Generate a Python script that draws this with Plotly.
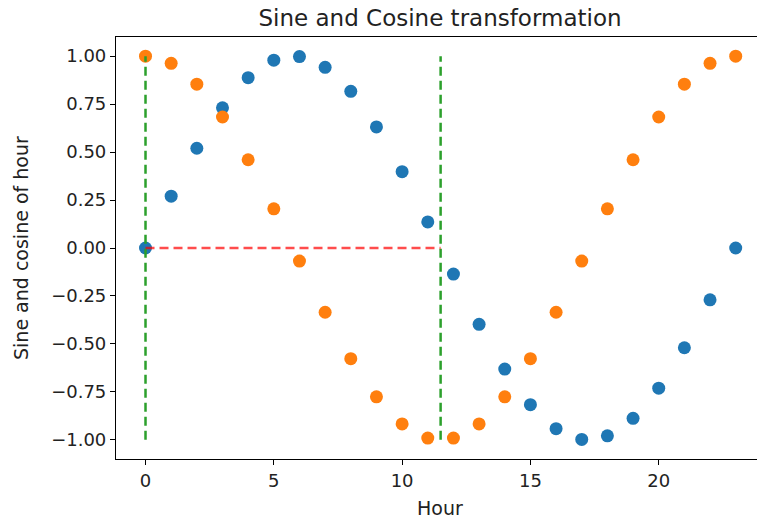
import plotly.graph_objects as go

# Hour of day and its cyclical encoding (period of 23 hours)
hours = list(range(24))
sin_hour = [0.000, 0.270, 0.520, 0.731, 0.888, 0.979, 0.998, 0.942, 0.817, 0.631,
            0.398, 0.136, -0.136, -0.398, -0.631, -0.817, -0.942, -0.998, -0.979,
            -0.888, -0.731, -0.520, -0.270, 0.000]
cos_hour = [1.000, 0.963, 0.854, 0.683, 0.460, 0.204, -0.068, -0.335, -0.577, -0.776,
            -0.917, -0.991, -0.991, -0.917, -0.776, -0.577, -0.335, -0.068, 0.204,
            0.460, 0.683, 0.854, 0.963, 1.000]

# Reference lines: half-period marker and zero baseline
vline_x = [0.0, 11.5]
vline_y = [-1.0, 1.0]
hline_x = [0.0, 11.5]
hline_y = [0.0, 0.0]

x_ticks = [0, 5, 10, 15, 20]
y_ticks = [-1.0, -0.75, -0.5, -0.25, 0.0, 0.25, 0.5, 0.75, 1.0]

FONT = "DejaVu Sans"

fig = go.Figure()
fig.add_trace(go.Scatter(x=hours, y=sin_hour, mode="markers",
                         marker=dict(color="#1f77b4", size=13), name="sin"))
fig.add_trace(go.Scatter(x=hours, y=cos_hour, mode="markers",
                         marker=dict(color="#ff7f0e", size=13), name="cos"))
for xv in vline_x:
    fig.add_trace(go.Scatter(x=[xv, xv], y=vline_y, mode="lines",
                             line=dict(color="#2ca02c", width=2.5, dash="9px,5px")))
fig.add_trace(go.Scatter(x=hline_x, y=hline_y, mode="lines",
                         line=dict(color="rgba(255,0,0,0.7)", width=2.5, dash="9px,5px")))

axis_common = dict(showgrid=False, zeroline=False, showline=True, linecolor="black",
                   linewidth=1.2, ticks="outside", ticklen=5, tickwidth=1.2,
                   tickcolor="black", tickfont=dict(family=FONT, size=18, color="#222"))

fig.update_layout(
    width=757, height=520,
    margin=dict(l=116, r=0, t=37, b=61),
    plot_bgcolor="white", paper_bgcolor="white",
    showlegend=False,
    font=dict(family=FONT, color="#222"),
    title=dict(text="Sine and Cosine transformation", x=440 / 757, xanchor="center",
               y=1 - 18 / 520, yanchor="middle", yref="container",
               font=dict(family=FONT, size=23, color="#222")),
    xaxis=dict(range=[-1.15, 23.83], tickvals=x_ticks, mirror=True, **axis_common),
    yaxis=dict(range=[-1.1, 1.1], tickvals=y_ticks, tickformat=".2f", **axis_common),
    annotations=[
        dict(text="Hour", xref="paper", yref="paper", x=(440 - 116) / 641,
             y=-49 / 422, xanchor="center", yanchor="middle", showarrow=False,
             font=dict(family=FONT, size=19, color="#222")),
        dict(text="Sine and cosine of hour", xref="paper", yref="paper",
             x=-95 / 641, y=0.5, xanchor="center", yanchor="middle", textangle=-90,
             showarrow=False, font=dict(family=FONT, size=19, color="#222")),
    ],
)

fig.write_html("out.html")
